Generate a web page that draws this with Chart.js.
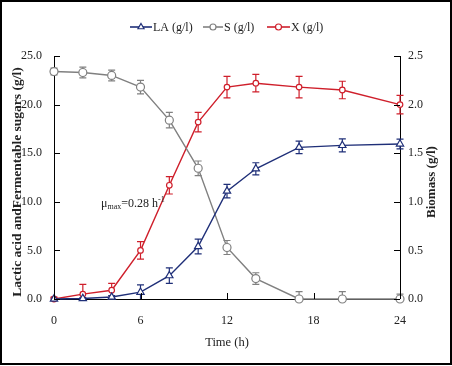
<!DOCTYPE html>
<html><head><meta charset="utf-8">
<script src="https://cdn.jsdelivr.net/npm/chart.js@4.4.1/dist/chart.umd.min.js"></script>
<style>html,body{margin:0;padding:0;background:#fff;}#wrap{width:452px;height:366px;position:relative;}</style>
</head><body><div id="wrap"><canvas id="c" width="452" height="366"></canvas></div>
<script>
const time = [0, 2, 4, 6, 8, 10, 12, 14, 17, 20, 24];
const laValues = [0, 0.05, 0.2, 0.7, 2.4, 5.4, 11.1, 13.4, 15.6, 15.8, 15.95];
const laErrors = [0.1, 0.1, 0.15, 0.75, 0.8, 0.75, 0.7, 0.62, 0.65, 0.67, 0.5];
const sValues = [23.4, 23.3, 23.0, 21.8, 18.4, 13.45, 5.3, 2.1, 0, 0, 0];
const sErrors = [0.35, 0.55, 0.55, 0.7, 0.8, 0.75, 0.72, 0.6, 0.75, 0.75, 0.5];
const xValues = [0, 0.05, 0.09, 0.5, 1.17, 1.82, 2.18, 2.22, 2.18, 2.15, 2.0];
const xErrors = [0.02, 0.1, 0.07, 0.09, 0.09, 0.1, 0.11, 0.09, 0.11, 0.09, 0.095];
const xTicks = [0, 6, 12, 18, 24];
const leftTicks = [0, 5, 10, 15, 20, 25];
const rightTicks = [0, 0.5, 1.0, 1.5, 2.0, 2.5];
const seriesNames = ['LA (g/l)', 'S (g/l)', 'X (g/l)'];
const leftTitle = 'Lactic acid andFermentable sugars (g/l)';
const rightTitle = 'Biomass (g/l)';

const SERIF = "'Liberation Serif','Times New Roman',serif";
const C_LA = '#1f2f78', C_S = '#808080', C_X = '#cf1f2b';

function pts(vals){ return vals.map((v,i)=>({x:time[i], y:v})); }

const errorBars = {
  id:'errorBars',
  beforeDatasetsDraw(chart){
    const ctx = chart.ctx, a = chart.chartArea;
    ctx.save();
    ctx.beginPath(); ctx.rect(0, a.top - 20, chart.width, a.bottom - a.top + 20); ctx.clip();
    chart.data.datasets.forEach((ds)=>{
      const ys = chart.scales[ds.yAxisID], xs = chart.scales.x;
      ctx.strokeStyle = ds.borderColor; ctx.lineWidth = 1.2;
      ds.data.forEach((p,j)=>{
        const e = ds.errors[j]; if(!e) return;
        const x = xs.getPixelForValue(p.x);
        const y1 = ys.getPixelForValue(p.y + e), y2 = ys.getPixelForValue(p.y - e);
        ctx.beginPath();
        ctx.moveTo(x, y1); ctx.lineTo(x, y2);
        ctx.moveTo(x-3.5, y1); ctx.lineTo(x+3.5, y1);
        ctx.moveTo(x-3.5, y2); ctx.lineTo(x+3.5, y2);
        ctx.stroke();
      });
    });
    ctx.restore();
  }
};

function drawMarker(ctx, style, x, y, r, color){
  ctx.save();
  ctx.fillStyle = '#fff'; ctx.strokeStyle = color; ctx.lineWidth = 1.2;
  ctx.beginPath();
  if(style === 'triangle'){
    ctx.moveTo(x, y - r); ctx.lineTo(x + r*0.87, y + r*0.5); ctx.lineTo(x - r*0.87, y + r*0.5); ctx.closePath();
  } else {
    ctx.arc(x, y, r, 0, Math.PI*2);
  }
  ctx.fill(); ctx.stroke();
  ctx.restore();
}

const extras = {
  id:'extras',
  afterDraw(chart){
    const ctx = chart.ctx, a = chart.chartArea;
    ctx.save();
    ctx.strokeStyle = '#000'; ctx.lineWidth = 1;
    const sx = chart.scales.x, sl = chart.scales.yL, sr = chart.scales.yR;
    sx.ticks.forEach(t=>{ const x = Math.round(sx.getPixelForValue(t.value))+0.5; ctx.beginPath(); ctx.moveTo(x, a.bottom); ctx.lineTo(x, a.bottom-6); ctx.stroke(); });
    sl.ticks.forEach(t=>{ const y = Math.round(sl.getPixelForValue(t.value))+0.5; ctx.beginPath(); ctx.moveTo(a.left, y); ctx.lineTo(a.left+6, y); ctx.stroke(); });
    sr.ticks.forEach(t=>{ const y = Math.round(sr.getPixelForValue(t.value))+0.5; ctx.beginPath(); ctx.moveTo(a.right, y); ctx.lineTo(a.right-6, y); ctx.stroke(); });
    ctx.restore();

    ctx.save();
    ctx.font = '12px ' + SERIF; ctx.fillStyle = '#222'; ctx.textBaseline = 'middle';
    const leg = [[130,152], [203,223], [267,290]];
    chart.data.datasets.forEach((ds,i)=>{
      const [x1,x2] = leg[i], y = 27;
      ctx.strokeStyle = ds.borderColor; ctx.lineWidth = 1.6;
      ctx.beginPath(); ctx.moveTo(x1, y); ctx.lineTo(x2, y); ctx.stroke();
      drawMarker(ctx, ds.pointStyle, (x1+x2)/2, y, ds.pointStyle==='triangle'?3.5:3, ds.borderColor);
      ctx.fillStyle = '#222';
      ctx.fillText(seriesNames[i], x2 + 1, y + 1);
    });
    ctx.restore();

    ctx.save();
    ctx.fillStyle = '#222'; ctx.textAlign = 'center'; ctx.textBaseline = 'middle';
    ctx.font = 'bold 13.5px ' + SERIF;
    ctx.translate(17.5, 182); ctx.rotate(-Math.PI/2);
    ctx.fillText(leftTitle, 0, 0);
    ctx.restore();

    ctx.save();
    ctx.translate(432, 182); ctx.rotate(-Math.PI/2);
    ctx.font = 'bold 13px ' + SERIF; ctx.fillStyle = '#222';
    ctx.textAlign = 'center'; ctx.textBaseline = 'middle';
    ctx.fillText(rightTitle, 0, 0);
    ctx.restore();

    ctx.save();
    ctx.fillStyle = '#222'; ctx.textBaseline = 'alphabetic';
    let x = 101, y = 207;
    ctx.font = '12px ' + SERIF; ctx.fillText('\u03bc', x, y); x += ctx.measureText('\u03bc').width;
    ctx.font = '8px ' + SERIF; ctx.fillText('max', x, y + 2); x += ctx.measureText('max').width;
    ctx.font = '12px ' + SERIF; ctx.fillText('=0.28 h', x, y); x += ctx.measureText('=0.28 h').width;
    ctx.font = '8px ' + SERIF; ctx.fillText('-1', x, y - 5);
    ctx.restore();

    ctx.save();
    ctx.strokeStyle = '#000'; ctx.lineWidth = 2;
    ctx.strokeRect(1, 1, 450, 363);
    ctx.restore();
  }
};

const tickFont = {family: SERIF, size: 12};
new Chart(document.getElementById('c'), {
  type: 'line',
  data: {
    datasets: [
      {label: seriesNames[0], data: pts(laValues), errors: laErrors, yAxisID: 'yL', borderColor: C_LA, backgroundColor: '#fff', borderWidth: 1.4, pointStyle: 'triangle', pointRadius: 4.2, pointBorderWidth: 1.2, pointBackgroundColor: '#fff', pointBorderColor: C_LA, tension: 0, clip: false},
      {label: seriesNames[1], data: pts(sValues), errors: sErrors, yAxisID: 'yL', borderColor: C_S, backgroundColor: '#fff', borderWidth: 1.4, pointStyle: 'circle', pointRadius: 4, pointBorderWidth: 1.2, pointBackgroundColor: '#fff', pointBorderColor: C_S, tension: 0, clip: false},
      {label: seriesNames[2], data: pts(xValues), errors: xErrors, yAxisID: 'yR', borderColor: C_X, backgroundColor: '#fff', borderWidth: 1.4, pointStyle: 'circle', pointRadius: 2.8, pointBorderWidth: 1.2, pointBackgroundColor: '#fff', pointBorderColor: C_X, tension: 0, clip: false}
    ]
  },
  options: {
    responsive: false, animation: false,
    layout: {padding: {top: 56, left: 0, right: 0, bottom: 0}},
    plugins: {legend: {display: false}, tooltip: {enabled: false}},
    scales: {
      x: {type: 'linear', min: 0, max: 24,
        afterBuildTicks(s){ s.ticks = xTicks.map(v=>({value:v})); },
        ticks: {padding: 15, color: '#222', font: tickFont, maxRotation: 0, autoSkip: false},
        grid: {drawOnChartArea: false, drawTicks: false}, border: {color: '#000', width: 1},
        title: {display: true, text: 'Time (h)', color: '#222', font: {family: SERIF, size: 12.5}, padding: {top: 0, bottom: 16}},
        afterFit(s){ s.height = 67; }},
      yL: {type: 'linear', position: 'left', min: 0, max: 25,
        afterBuildTicks(s){ s.ticks = leftTicks.map(v=>({value:v})); },
        ticks: {padding: 12, color: '#222', font: tickFont, callback: v => v.toFixed(1)},
        grid: {drawOnChartArea: false, drawTicks: false}, border: {color: '#000', width: 1},
        afterFit(s){ s.width = 54; }},
      yR: {type: 'linear', position: 'right', min: 0, max: 2.5,
        afterBuildTicks(s){ s.ticks = rightTicks.map(v=>({value:v})); },
        ticks: {padding: 8, color: '#222', font: tickFont, callback: v => v.toFixed(1)},
        grid: {drawOnChartArea: false, drawTicks: false}, border: {color: '#000', width: 1},
        afterFit(s){ s.width = 52; }}
    }
  },
  plugins: [errorBars, extras]
});
</script></body></html>
